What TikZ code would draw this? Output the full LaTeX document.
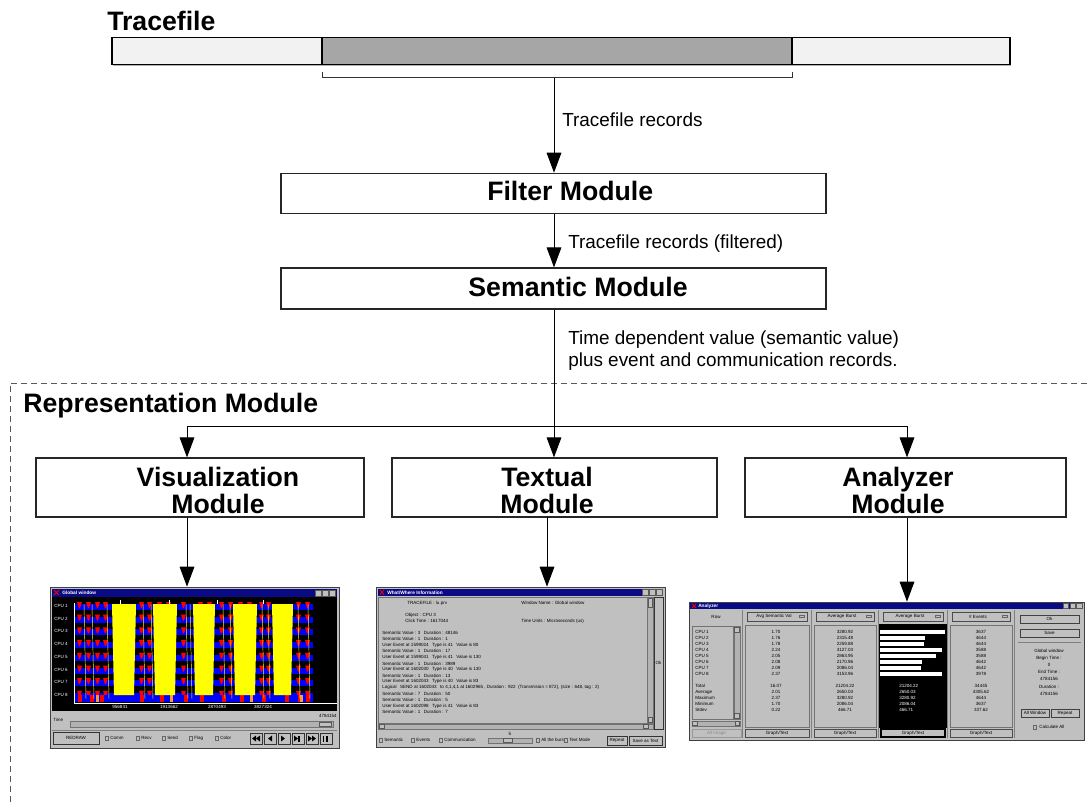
\documentclass[tikz,border=0pt]{standalone}
\usepackage{fontspec}
\setmainfont{Liberation Sans}
\usetikzlibrary{arrows.meta,fit}
\definecolor{light}{HTML}{F2F2F2}
\definecolor{dark}{HTML}{A6A6A6}
\definecolor{wgray}{HTML}{C0C0C0}
\definecolor{navy}{HTML}{0A0A84}
\definecolor{ylw}{HTML}{FFFF00}
\definecolor{rd}{HTML}{FF0000}
\definecolor{bl}{HTML}{0000FF}
\definecolor{org}{HTML}{FF9933}
\begin{document}
\begin{tikzpicture}[x=0.75pt,y=-0.75pt,
  head/.style={font=\fontsize{20}{22}\selectfont\bfseries, inner sep=0},
  lbl/.style={font=\fontsize{14.2}{16}\selectfont, inner sep=0},
  mbox/.style={draw=black!85, line width=0.9pt, inner sep=0},
  arr/.style={line width=0.75pt, -{Triangle[width=11pt,length=15pt]}},
  tiny/.style={font=\fontsize{3.4}{4}\selectfont, inner sep=0},
  tinyw/.style={tiny, text=white},
  tinyb/.style={font=\fontsize{3.6}{4}\selectfont\bfseries, inner sep=0, text=white},
  win/.style={draw=black!75, fill=wgray, line width=0.5pt, inner sep=0},
  btn/.style={draw=black!65, fill=wgray, line width=0.3pt},
  sunk/.style={draw=black!55, fill=wgray, line width=0.3pt},
  chk/.style={draw=black!60, fill=black!25, line width=0.2pt}]
\useasboundingbox (0,0) rectangle (1087,802);

% ---------------- Tracefile ----------------
\node[head, anchor=base west] (ttl) at (107,31) {Tracefile};
\draw[black!30, line width=1pt] (113,65.6) -- (1011,65.6);
\node[fit={(112,37.3)(1010,64.3)}, draw, fill=light, line width=0.8pt, inner sep=0] (bar) {};
\node[fit={(322,37.3)(792,64.3)}, draw, fill=dark, line width=0.8pt, inner sep=0] (sel) {};
\draw[line width=0.75pt, black!80] (322,71.7) -- (322,77.7) -- (792,77.7) -- (792,71.7);
\coordinate (brk) at (554,77.7);

% ---------------- Filter / Semantic ----------------
\node[mbox, fit={(281,173.3)(826,213.3)}] (filter) {};
\node[head, anchor=base west] (filtertxt) at (487,201) {Filter Module};
\node[mbox, fit={(281,268)(826,309)}] (sem) {};
\node[head, anchor=base east] (semtxt) at (688,296) {Semantic Module};

\draw[arr] (brk) -- (brk |- filter.north);
\node[lbl, anchor=base west] (l1) at (562,126.5) {Tracefile records};
\draw[arr] (brk |- filter.south) -- (brk |- sem.north);
\node[lbl, anchor=base west] (l2) at (568,248) {Tracefile records (filtered)};
\node[lbl, anchor=base west] (l3) at (568,344) {Time dependent value (semantic value)};
\node[lbl, anchor=base west] (l4) at (568,366) {plus event and communication records.};

% ---------------- Representation module ----------------
\draw[black!65, line width=0.75pt, dash pattern=on 4.5pt off 3pt] (1087,383) -- (10,383) -- (10,802);
\node[head, anchor=base west] (reptxt) at (23,412) {Representation Module};

\coordinate (split) at (554,426);
\coordinate (cl) at (187,426);
\coordinate (cr) at (907,426);
\node[mbox, fit={(36,458)(364,517)}] (vis) {};
\node[mbox, fit={(392,458)(717,517)}] (tex) {};
\node[mbox, fit={(745,458)(1066,517)}] (ana) {};
\draw[line width=0.75pt] (brk |- sem.south) -- (split);
\draw[line width=0.75pt] (cl) -- (cr);
\draw[arr] (cl) -- (cl |- vis.north);
\draw[arr] (split) -- (split |- tex.north);
\draw[arr] (cr) -- (cr |- ana.north);

\node[head, anchor=base] (vis1) at (218,486) {Visualization};
\node[head, anchor=base] (vis2) at (218,513) {Module};
\node[head, anchor=base] (tex1) at (547,486) {Textual};
\node[head, anchor=base] (tex2) at (547,513) {Module};
\node[head, anchor=base] (ana1) at (898,486) {Analyzer};
\node[head, anchor=base] (ana2) at (898,513) {Module};

% ---------------- screenshot frames ----------------
\node[win, fit={(50,587)(339,748)}] (gw) {};
\node[win, fit={(376,587)(665,747)}] (ww) {};
\node[win, fit={(689,602)(1084,740)}] (aw) {};
\coordinate (ct) at (547,517);
\draw[arr] (cl |- vis.south) -- (cl |- gw.north);
\draw[arr] (ct) -- (ct |- ww.north);
\draw[arr] (cr |- ana.south) -- (cr |- aw.north);

% ======== Global window ========
\fill[navy] (52,589) rectangle (337,597);
\draw[rd, line width=0.6pt] (54,590) -- (59,595) (59,590) -- (54,595);
\node[tinyb, anchor=west] (gwt) at (62,593) {Global window};
\foreach \i in {0,1,2} \filldraw[btn] (315+\i*7.3,590) rectangle ++(6,6);
\fill[black] (52,597) rectangle (337,711);
\foreach \k in {0,...,7} {
  \pgfmathsetmacro{\yy}{606+12.7*\k}
  \fill[bl] (75,\yy-2) rectangle (313,\yy+4);
  \foreach \xx in {77,86,95,103,139,147,157,166,181,198,207,219,228,238,247,259,266,296,305}
    \fill[rd] (\xx,\yy-4) -- (\xx+5,\yy-4) -- (\xx+3,\yy+2) -- (\xx+2,\yy+2) -- cycle;
  \fill[black] (75,\yy+4) rectangle (313,\yy+6.5);
}
\fill[bl] (75,695) rectangle (313,702);
\foreach \xx in {78,90,100,140,160,184,200,222,240,262,285,298,306}
  \fill[rd] (\xx,695) rectangle ++(4,7);
\foreach \xx in {96,170,250,300} \fill[org] (\xx,695) rectangle ++(3,7);
\foreach \a/\b in {112/136,153/177,193/215,233/257,272/293}
  \fill[ylw] (\a,604) -- (\b,604) -- (\b-2,695) -- (\a+2,695) -- cycle;
\foreach \xx in {84,92,107,143,151,186,190,223,230,262,268,298,308}
  \draw[ylw, line width=0.35pt] (\xx,604) -- (\xx+2,699);
\draw[white, line width=0.4pt] (74,603) -- (74,703) -- (337,703);
\foreach \xx/\t [count=\n] in {120/956831,169/1913662,217/2870493,263/3827324} {
  \draw[white, line width=0.3pt] (\xx,600) -- (\xx,604);
  \node[tinyw] (gx\n) at (\xx,707) {\t};
}
\foreach \k [evaluate=\k as \n using int(\k+1)] in {0,...,7}
  \node[tinyw, anchor=west] (cpu\n) at (54,606+12.7*\k) {CPU \n};
\node[tiny, anchor=west] (gtime) at (53,720) {Time};
\node[tiny, anchor=east] (gmax) at (337,716) {4784154};
\filldraw[sunk, fill=black!30] (70,721) rectangle (333,727);
\filldraw[btn] (319,722) rectangle (331,726);
\draw[black!50, line width=0.3pt] (52,730) -- (337,730);
\filldraw[btn, line width=0.5pt, draw=black!80] (53,732) rectangle (99,744);
\node[tiny] (redraw) at (76,738) {REDRAW};
\foreach \xx/\t [count=\n] in {105/Comm,136/Recv,162/Send,189/Flag,215/Color} {
  \filldraw[chk] (\xx,736.6) rectangle ++(3.4,3.4);
  \node[tiny, anchor=west] (gc\n) at (\xx+5,738.3) {\t};
}
\foreach \i in {0,...,5} \filldraw[btn, draw=black!80] (250+14*\i,733) rectangle ++(12,11);
% media symbols
\fill (252,738.5) -- (256,735.5) -- (256,741.5) -- cycle;
\fill (256,738.5) -- (260,735.5) -- (260,741.5) -- cycle;
\fill (268,738.5) -- (272,735.5) -- (272,741.5) -- cycle;
\fill (285,738.5) -- (281,735.5) -- (281,741.5) -- cycle;
\fill (298,738.5) -- (294,735.5) -- (294,741.5) -- cycle;
\fill (298,735.5) rectangle (299.5,741.5);
\fill (312,738.5) -- (308,735.5) -- (308,741.5) -- cycle;
\fill (316,738.5) -- (312,735.5) -- (312,741.5) -- cycle;
\fill (322.5,735.5) rectangle (324,741.5);
\fill (326,735.5) rectangle (327.5,741.5);

% ======== What/Where window ========
\fill[navy] (378,589) rectangle (663,596);
\draw[rd, line width=0.6pt] (380,590) -- (384,594.5) (384,590) -- (380,594.5);
\node[tinyb, anchor=west] (wwt) at (387,592.5) {What/Where Information};
\foreach \i in {0,1,2} \filldraw[btn] (642+\i*7,589.5) rectangle ++(6,6);
\filldraw[sunk] (378,597) rectangle (647,723);
\filldraw[sunk, fill=black!30] (647,597) rectangle (653,723);
\filldraw[btn] (648,598) rectangle (652,607);
\filldraw[btn] (648,717) rectangle (652,722);
\filldraw[btn, draw=black!80] (654,597) rectangle (663,729);
\node[tiny] (wok) at (658.5,663) {Ok};
\filldraw[sunk, fill=black!30] (378,724) rectangle (653,729);
\filldraw[btn] (379,724.5) rectangle (384,728.5);
\filldraw[btn] (643,724.5) rectangle (648,728.5);
\node[tiny, anchor=west] (w1) at (407,603) {TRACEFILE : lu.prv};
\node[tiny, anchor=west] (w2) at (521,603) {Window Name : Global window};
\node[tiny, anchor=west] (w3) at (405,615) {Object : CPU 3};
\node[tiny, anchor=west] (w4) at (405,621) {Click Time : 1617044};
\node[tiny, anchor=west] (w5) at (521,621) {Time Units : Microseconds (us)};
\foreach \t [count=\i from 0] in {
  {Semantic Value : 3\enspace\ Duration : 48146},
  {Semantic Value : 1\enspace\ Duration : 1},
  {User Event at 1599024\enspace\ Type is 41\enspace\ Value is 80},
  {Semantic Value : 1\enspace\ Duration : 17},
  {User Event at 1599041\enspace\ Type is 41\enspace\ Value is 130},
  {Semantic Value : 1\enspace\ Duration : 3989},
  {User Event at 1602030\enspace\ Type is 40\enspace\ Value is 130},
  {Semantic Value : 1\enspace\ Duration : 13},
  {User Event at 1602043\enspace\ Type is 40\enspace\ Value is 83},
  {Logical\enspace\ SEND\ at 1602043\enspace\ to 4,1,4,1 at 1602965 ,\ Duration : 922\enspace (Transmision = 872), (size : 648, tag : 2)},
  {Semantic Value : 7\enspace\ Duration : 50},
  {Semantic Value : 1\enspace\ Duration : 5},
  {User Event at 1602098\enspace\ Type is 41\enspace\ Value is 83},
  {Semantic Value : 1\enspace\ Duration : 7}}
  \node[tiny, anchor=west] (wl\i) at (382,633+6.08*\i) {\t};
\foreach \xx/\t [count=\n] in {379/Semantic,411/Events,439/Communication} {
  \filldraw[chk] (\xx,738.3) rectangle ++(3.4,3.4);
  \node[tiny, anchor=west] (wc\n) at (\xx+5,740) {\t};
}
\node[tiny] (wfive) at (510,734) {5};
\filldraw[sunk, fill=black!30] (488,738) rectangle (532,743);
\filldraw[btn] (503,738.5) rectangle (512,742.5);
\foreach \xx/\t [count=\n] in {536/All the burst,564/Text Mode} {
  \filldraw[chk] (\xx,738.3) rectangle ++(3.4,3.4);
  \node[tiny, anchor=west] (wd\n) at (\xx+5,740) {\t};
}
\filldraw[btn, draw=black!80] (607,736) rectangle (627,745);
\node[tiny] (wrep) at (617,740.5) {Repeat};
\filldraw[btn, draw=black!80] (629,736) rectangle (662,745);
\node[tiny] (wsave) at (645.5,740.5) {Save as Text};

% ======== Analyzer window ========
\fill[navy] (690,603) rectangle (1083,609);
\draw[rd, line width=0.6pt] (692,603.8) -- (696,608) (696,603.8) -- (692,608);
\node[tinyb, anchor=west] (awt) at (698,606) {Analyzer};
\foreach \i in {0,1,2} \filldraw[btn] (1063+\i*6.8,603.5) rectangle ++(5.5,5);
\foreach \xx in {742,811,878,947,1014} \draw[black!50, line width=0.4pt] (\xx,610) -- (\xx,738);
% row column
\node[tiny] (arow) at (716,617) {Row};
\filldraw[sunk] (692,626) rectangle (733,719);
\filldraw[sunk, fill=black!30] (734,626) rectangle (740,719);
\filldraw[btn] (734.5,627) rectangle (739.5,632);
\filldraw[btn] (734.5,713) rectangle (739.5,718);
\filldraw[sunk, fill=black!30] (692,721) rectangle (740,726);
\filldraw[btn] (692.5,721.5) rectangle (697,725.5);
\filldraw[btn] (735.5,721.5) rectangle (739.5,725.5);
\filldraw[btn, draw=black!40] (692,729) rectangle (741,737);
\node[tiny, text=black!45] (aimg) at (716.5,733) {All Image};
\foreach \t/\yy [count=\n] in {CPU 1/632,CPU 2/638,CPU 3/644,CPU 4/650,CPU 5/656,CPU 6/662,CPU 7/668,CPU 8/674,Total/686,Average/692,Maximum/698,Minimum/704,Stdev/710}
  \node[tiny, anchor=west] (ar\n) at (695,\yy) {\t};
% columns
\foreach \xa/\xb/\t [count=\n] in {743/811/Avg Semantic Val,812/878/Average Burst,879/947/Average Burst,948/1014/\# Events} {
  \filldraw[btn, draw=black!70] (\xa+4,612) rectangle (\xb-4,621);
  \node[tiny] (ah\n) at ({(\xa+\xb)/2-3},616.5) {\t};
  \filldraw[btn, draw=black!60] (\xb-12,615.5) rectangle (\xb-7,617.5);
  \filldraw[btn, draw=black!70] (\xa+2,729) rectangle (\xb-2,737);
  \node[tiny] (af\n) at ({(\xa+\xb)/2},733) {Graph/Text};
}
\filldraw[sunk] (745,625) rectangle (809,727);
\filldraw[sunk] (814,625) rectangle (876,727);
\filldraw[sunk] (950,625) rectangle (1012,727);
\fill[black] (879,624) rectangle (947,728);
\draw[black, line width=0.8pt] (881,729) rectangle (945,737);
\foreach \v/\yy [count=\n] in {1.70/632,1.76/638,1.78/644,2.24/650,2.05/656,2.08/662,2.09/668,2.37/674,16.07/686,2.01/692,2.37/698,1.70/704,0.22/710}
  \node[tiny] (av\n) at (776,\yy) {\v};
\foreach \v/\yy [count=\n] in {3280.92/632,2315.48/638,2259.88/644,3127.03/650,2863.95/656,2170.96/662,2086.04/668,3153.96/674,21204.22/686,2650.03/692,3280.92/698,2086.04/704,466.71/710}
  \node[tiny] (ab\n) at (845,\yy) {\v};
\foreach \v/\yy [count=\n] in {3637/632,4644/638,4644/644,3588/650,3588/656,4642/662,4642/668,3978/674,34445/686,4305.62/692,4644/698,3637/704,337.62/710}
  \node[tiny] (ae\n) at (981,\yy) {\v};
\foreach \r/\yy in {945/632,925/638,924/644,942/650,936/656,922/662,921/668,942/674}
  \fill[white] (880,\yy-1.9) rectangle (\r,\yy+1.9);
\foreach \v/\yy [count=\n] in {21204.22/686,2650.03/692,3280.92/698,2086.04/704,466.71/710}
  \node[tinyw, anchor=west] (ag\n) at (899,\yy) {\v};
% right panel
\filldraw[btn, draw=black!75] (1020,615) rectangle (1079,623);
\node[tiny] (aok) at (1049.5,619) {Ok};
\filldraw[btn, draw=black!75] (1020,629) rectangle (1079,637);
\node[tiny] (asave) at (1049.5,633) {Save};
\draw[black!50, line width=0.4pt] (1018,642) -- (1081,642);
\foreach \t/\yy [count=\n] in {Global window/651,Begin Time :/658,0/665,End Time :/672,4784156/679,Duration :/687,4784156/694}
  \node[tiny] (ai\n) at (1049,\yy) {\t};
\filldraw[btn, draw=black!75] (1021,709) rectangle (1049,717);
\node[tiny] (aall) at (1035,713) {All Window};
\filldraw[btn, draw=black!75] (1051,709) rectangle (1079,717);
\node[tiny] (arep) at (1065,713) {Repeat};
\filldraw[chk] (1033,725.5) rectangle ++(3.4,3.4);
\node[tiny, anchor=west] (acalc) at (1039,727.2) {Calculate All};
\end{tikzpicture}
\end{document}
